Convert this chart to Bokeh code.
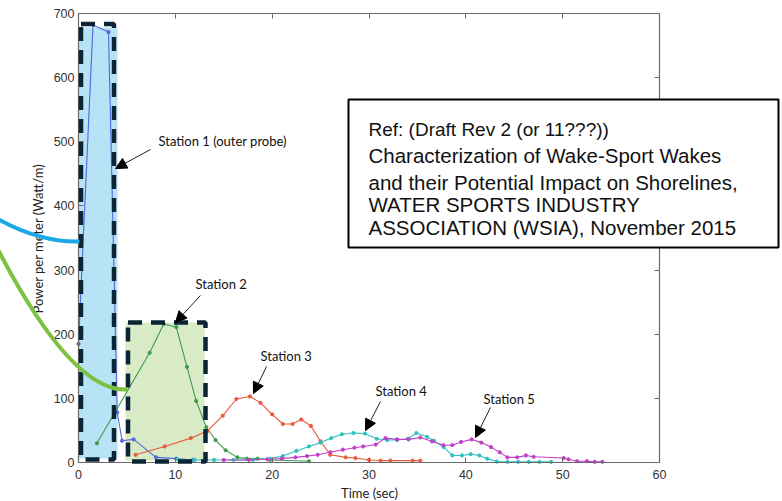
import math
from bokeh.plotting import figure
from bokeh.models import (Range1d, LinearAxis, FixedTicker, BoxAnnotation, Label,
                          Arrow, NormalHead)
from bokeh.embed import file_html
from bokeh.resources import INLINE

# ---------------- data ----------------
x_ticks = [0, 10, 20, 30, 40, 50, 60]
y_ticks = [0, 100, 200, 300, 400, 500, 600, 700]

s1_t = [0.0, 1.5, 3.1, 4.0, 4.5, 5.7, 8.0, 10.1, 11.8]
s1_v = [185, 682, 671, 78, 34, 36, 8, 6, 4]

s2_t = [1.9, 7.35, 8.8, 10.1, 11.2, 12.15, 13.2, 14.15, 15.2, 16.4, 17.4, 18.5, 19.8, 23.8]
s2_v = [30, 171, 216, 211, 149, 96, 55, 35, 19, 8, 6, 6, 4, 2]

s3_t = [5.9, 8.9, 11.6, 13.3, 14.9, 16.3, 17.7, 18.8, 20.0, 21.1, 22.1, 23.0, 24.0,
        25.0, 26.0, 27.6, 28.6, 30.0, 31.2, 32.2, 34.5, 35.3]
s3_v = [12, 25, 38, 49, 73, 99, 103, 93, 75, 60, 60, 67, 57, 33, 12, 8, 7, 4, 3, 3, 3, 3]

s4_t = [10.2, 12.0, 14.0, 16.0, 18.0, 19.8, 21.1, 22.5, 23.8, 25.0, 26.1, 27.2, 28.4,
        29.6, 30.8, 31.9, 32.9, 34.0, 34.9, 36.0, 36.7, 37.7, 38.6, 39.6, 40.5, 41.4,
        42.2, 43.2, 44.3, 45.4, 46.5, 47.6, 48.8]
s4_v = [5, 4, 4, 4, 4, 6, 10, 18, 25, 31, 38, 44, 46, 45, 37, 35, 35, 37, 46, 40, 34,
        24, 11, 11, 13, 11, 6, 1.5, 1, 1, 1, 1, 1]

s5_t = [15.0, 17.6, 19.5, 21.0, 22.4, 23.6, 24.7, 26.0, 27.3, 28.5, 29.4, 30.7, 31.7,
        32.9, 34.1, 35.3, 36.5, 37.7, 38.6, 39.5, 40.6, 41.6, 42.6, 43.5, 44.3, 45.3,
        46.2, 47.0, 50.1, 50.6, 51.5, 52.5, 53.3, 54.1]
s5_v = [4, 4, 5, 6, 8, 10, 12, 16, 20, 23, 25, 28, 38, 36, 36, 39, 33, 27, 27, 32, 36,
        31, 24, 16, 8, 8, 11, 9, 7, 5, 2, 2, 1, 1]

series = [
    (s1_t, s1_v, "#5068e2"),
    (s2_t, s2_v, "#3f9a4c"),
    (s3_t, s3_v, "#ea5a3e"),
    (s4_t, s4_v, "#2fc2c2"),
    (s5_t, s5_v, "#c23fc6"),
]

# ---------------- geometry (pixel -> data) ----------------
W, H = 782, 501
PX0, PX60 = 78.0, 659.0
PY0, PY700 = 462.0, 13.0
SX = (PX60 - PX0) / 60.0
SY = (PY0 - PY700) / 700.0


def X(px):
    return (px - PX0) / SX


def Y(py):
    return (PY0 - py) / SY


p = figure(width=W, height=H, x_range=Range1d(X(0), X(W)), y_range=Range1d(Y(H), Y(0)),
           output_backend="svg", toolbar_location=None, min_border=0,
           x_axis_type=None, y_axis_type=None)
p.outline_line_color = None
p.background_fill_color = "white"
p.border_fill_color = "white"

AX_COL = "#6a6a6a"
TICK_FONT = "Liberation Sans"


def make_axis(loc, bounds, ticks, show_labels):
    ax = LinearAxis(fixed_location=loc, bounds=bounds, ticker=FixedTicker(ticks=ticks))
    ax.axis_line_color = AX_COL
    ax.axis_line_width = 1.2
    ax.major_tick_line_color = AX_COL
    ax.major_tick_in = 5
    ax.major_tick_out = 0
    ax.minor_tick_in = 0
    ax.minor_tick_out = 0
    ax.minor_tick_line_color = None
    ax.major_label_text_font = TICK_FONT
    ax.major_label_text_font_size = "12.5px"
    ax.major_label_text_color = "#333333" if show_labels else None
    return ax


xb = make_axis(0, (0, 60), x_ticks, True)
xb.major_label_standoff = 7
p.add_layout(xb, "below")
yl = make_axis(0, (0, 700), y_ticks, True)
yl.major_label_standoff = 4
p.add_layout(yl, "left")
xt = make_axis(700, (0, 60), x_ticks, False)
p.add_layout(xt, "above")
yr = make_axis(60, (0, 700), y_ticks, False)
p.add_layout(yr, "right")

# highlight fills (under the data)
p.add_layout(BoxAnnotation(left=X(78), right=X(117), top=Y(27), bottom=Y(458),
                           fill_color="#b8e2f6", fill_alpha=1, line_color=None,
                           level="underlay"))
p.add_layout(BoxAnnotation(left=X(125), right=X(204), top=Y(322), bottom=Y(460),
                           fill_color="#d8ebc6", fill_alpha=1, line_color=None,
                           level="underlay"))

# series
for t, v, c in series:
    p.line(t, v, line_color=c, line_width=1.1)
    p.scatter(t, v, marker="circle", size=3.2, fill_color=c, line_color=c)

# dashed outlines
DASH_COL = "#0c2535"
for l, r, tp, bt in [(80.5, 113.5, 23.5, 459), (127.5, 205, 322, 461)]:
    p.add_layout(BoxAnnotation(left=X(l), right=X(r), top=Y(tp), bottom=Y(bt),
                               fill_color=None, fill_alpha=0, line_color=DASH_COL,
                               line_alpha=1, line_width=4.5, line_dash="14 9"))

# callout curves
bc = p.quadratic(x0=[X(-2)], y0=[Y(219)], x1=[X(79)], y1=[Y(241)], cx=[X(40)], cy=[Y(242)],
                 line_color="#1aa9e8", line_width=4)
bc.level = "overlay"
gc = p.quadratic(x0=[X(-2)], y0=[Y(250)], x1=[X(127)], y1=[Y(389)], cx=[X(72)], cy=[Y(392)],
                 line_color="#7cc142", line_width=4)
gc.level = "overlay"

# station labels and arrows
LBL_FONT = "Lato"
stations = [
    ("Station 1 (outer probe)", 158, 140, (150, 149), (115, 168)),
    ("Station 2", 195, 283, (200, 295), (175, 322)),
    ("Station 3", 260, 355, (266, 366), (253, 393)),
    ("Station 4", 375, 390, (380, 401), (365, 430)),
    ("Station 5", 483, 398, (490, 407), (475, 437)),
]
for txt, lx, ly, s, e in stations:
    p.add_layout(Label(x=X(lx), y=Y(ly), text=txt, text_font=LBL_FONT,
                       text_font_size="13px", text_baseline="middle",
                       text_align="left", text_color="#111111"))
    p.add_layout(Arrow(end=NormalHead(size=11, fill_color="black", line_color="black"),
                       x_start=X(s[0]), y_start=Y(s[1]), x_end=X(e[0]), y_end=Y(e[1]),
                       line_color="#222222", line_width=1))

# axis titles
p.add_layout(Label(x=X(369), y=Y(492), text="Time (sec)", text_font=LBL_FONT,
                   text_font_size="13px", text_align="center",
                   text_baseline="alphabetic", text_color="#222222"))
p.add_layout(Label(x=X(37), y=Y(238), text="Power per meter (Watt/m)", text_font=LBL_FONT,
                   text_font_size="13px", text_align="center", text_baseline="middle",
                   angle=90, angle_units="deg", text_color="#222222"))

# reference box
p.add_layout(BoxAnnotation(left=X(348), right=X(778), top=Y(99), bottom=Y(247),
                           fill_color="white", fill_alpha=1, line_color="black",
                           line_alpha=1, line_width=2))
ref_lines = [
    ("Ref:  (Draft Rev 2 (or 11???))", 129, "19px"),
    ("Characterization of Wake-Sport Wakes", 155, "20.5px"),
    ("and their Potential Impact on Shorelines,", 182, "20.5px"),
    ("WATER SPORTS INDUSTRY", 204, "20.5px"),
    ("ASSOCIATION (WSIA), November 2015", 226.5, "20.5px"),
]
for txt, by, fs in ref_lines:
    p.add_layout(Label(x=X(368), y=Y(by), text=txt, text_font="Liberation Sans",
                       text_font_size=fs, text_align="left", text_baseline="alphabetic",
                       text_color="#111111"))

open("out.html", "w").write(file_html(p, INLINE))
